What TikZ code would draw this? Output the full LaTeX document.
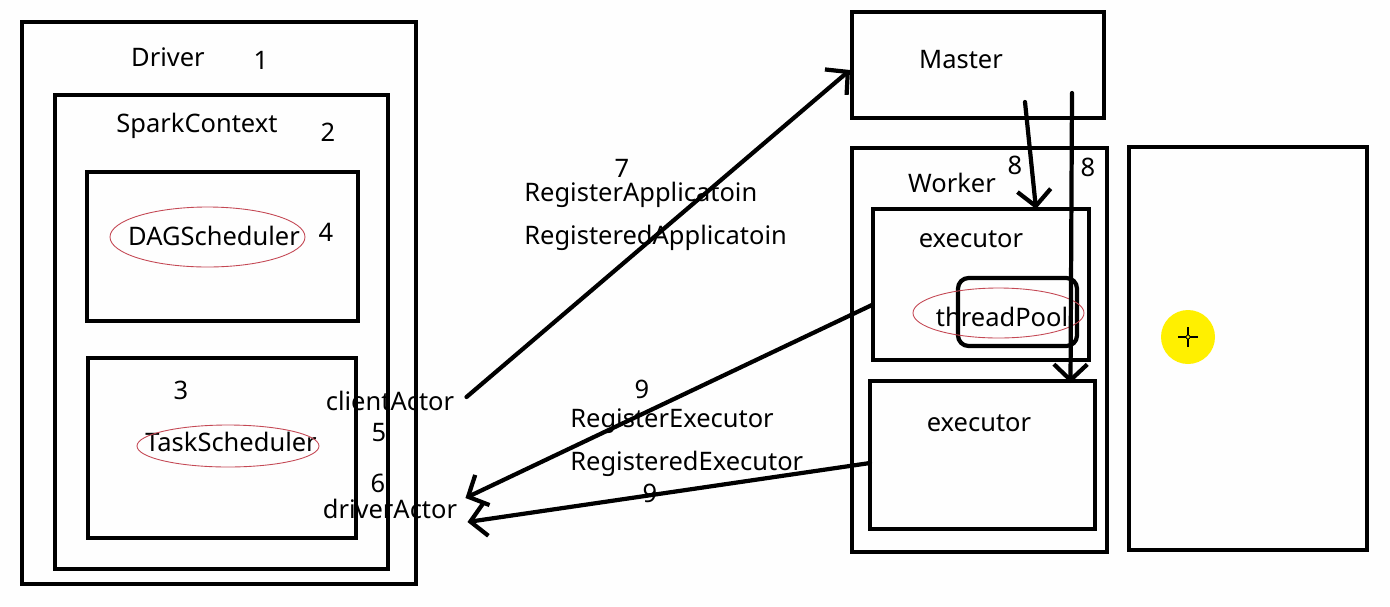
\documentclass[tikz,border=0pt]{standalone}
\usepackage{fontspec}
\setmainfont{Noto Sans}
\usetikzlibrary{arrows.meta,calc,fit}
\definecolor{cInk}{RGB}{0,0,0}
\definecolor{cOval}{RGB}{196,72,84}
\definecolor{cCursor}{RGB}{255,240,0}
\definecolor{cPaper}{RGB}{254,254,254}

\begin{document}
\begin{tikzpicture}[
  x=0.02cm, y=-0.02cm, font=\fontsize{14.5}{17}\selectfont, color=cInk,
  frame/.style={draw=cInk, line width=2.7pt, inner sep=0pt, outer sep=0pt},
  pool/.style ={frame, line width=2.4pt, rounded corners=6pt},
  oval/.style ={draw=cOval, line width=0.5pt},
  msg/.style  ={-{Straight Barb[length=9pt,width=19pt]}, line width=2.4pt,
                line cap=round, draw=cInk},
  lbl/.style  ={inner sep=0pt},
]

% ----- page ------------------------------------------------------------
\fill[cPaper] (0,0) rectangle (1390,606);
\useasboundingbox (0,0) rectangle (1390,606);

% ----- driver side -----------------------------------------------------
\node[frame,fit={(22,22) (416,584)}]   (driver) {};
\node[frame,fit={(55,95) (388,569)}]   (sc)     {};
\node[frame,fit={(87,172) (358,321)}]  (dag)    {};
\node[frame,fit={(88,358) (356,538)}]  (task)   {};

\node[lbl] (drvname) at (168,57)  {Driver};
\node[lbl] (n1)      at (261,60)  {1};
\node[lbl] (scname)  at (197,126) {SparkContext};
\node[lbl] (n2)      at (328,132) {2};
\node[lbl] (dagname) at (214,236) {DAGScheduler};
\node[lbl] (n4)      at (326,232) {4};
\node[lbl] (n3)      at (181,390) {3};
\node[lbl] (tskname) at (231,442) {TaskScheduler};
\draw[oval] (207.5,237) ellipse [x radius=97.5, y radius=30];
\draw[oval] (228,446)   ellipse [x radius=91,   y radius=21];

\node[lbl] (client)   at (390,401) {clientActor};
\node[lbl] (n5)       at (379,433) {5};
\node[lbl] (n6)       at (378,483) {6};
\node[lbl] (drvactor) at (390,509) {driverActor};

% ----- master / worker side --------------------------------------------
\node[frame,fit={(852,12) (1104,118)}]   (master) {};
\node[frame,fit={(852,148) (1107,552)}]  (worker) {};
\node[frame,fit={(873,209) (1089,360)}]  (exec1)  {};
\node[frame,fit={(870,381) (1095,529)}]  (exec2)  {};
\node[pool,fit={(958,278) (1077,346)}]   (tpbox)  {};
\node[frame,line width=2.3pt,fit={(1129,147) (1367,550)}] (spare) {};

\node[lbl] (mstname) at (961,60)   {Master};
\node[lbl] (wrkname) at (952,183)  {Worker};
\node[lbl] (n8a)     at (1015,165) {8};
\node[lbl] (n8b)     at (1088,167) {8};
\node[lbl] (ex1name) at (971,239)  {executor};
\node[lbl] (tpname)  at (1002,317) {threadPool};
\node[lbl] (ex2name) at (979,423)  {executor};
\draw[oval] (998.5,313) ellipse [x radius=85.5, y radius=25];

% ----- messages --------------------------------------------------------
\node[lbl] (n7) at (622,168) {7};
\node[lbl,anchor=west] (regapp)  at (524,195) {RegisterApplicatoin};
\node[lbl,anchor=west] (regdapp) at (524,238) {RegisteredApplicatoin};
\node[lbl] (n9a) at (642,389) {9};
\node[lbl,anchor=west] (regex)  at (570,421) {RegisterExecutor};
\node[lbl,anchor=west] (regdex) at (570,464) {RegisteredExecutor};
\node[lbl] (n9b) at (650,493) {9};

\draw[msg] ($(client.east)+(12,-4)$) -- ($(master.west)+(-2,5)$);
\draw[msg] ($(master.south)+(47,-16)$) -- ($(exec1.north)+(55,0)$);
\draw[msg] ($(master.south)+(94,-25)$) -- ($(exec2.north)+(88,2)$);
\draw[msg] ($(exec1.west)+(0,20)$) -- ($(drvactor.east)+(8,-11)$);
\draw[msg] ($(exec2.west)+(0,8)$)  -- ($(drvactor.east)+(10,13)$);

% ----- cursor ----------------------------------------------------------
\fill[cCursor] (1188,337) circle [radius=27];
\draw[line width=0.6pt] (1178,337) -- (1198,337) (1188,327) -- (1188,347);
\draw[line width=0.4pt,fill=cCursor] (1188,337) circle [radius=2];

\end{tikzpicture}
\end{document}
